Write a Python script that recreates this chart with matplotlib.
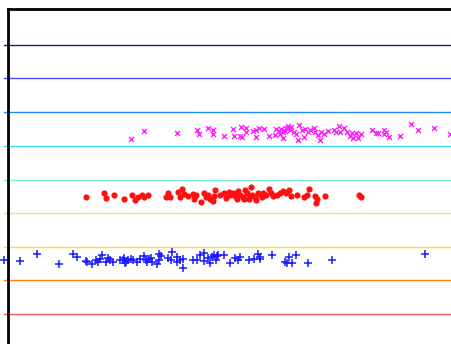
import matplotlib
matplotlib.use("Agg")
import matplotlib.pyplot as plt

# horizontal separator lines (height, colour) from bottom to top
line_y = [30, 64, 97, 131, 164, 198, 232, 266, 299]
line_colors = ["#f05a5a", "#ff8010", "#ffe030", "#d4f078", "#78f0cc",
               "#40d8f8", "#1a8cff", "#4848f8", "#1a1a80"]

# magenta 'x' group
mag_x = [130.7, 144, 177.3, 196.7, 199.3, 208, 213.3, 212.7, 224, 233.3, 234, 241.3,
         246, 246, 240, 242, 252.7, 256, 258.7, 264, 256, 268.7, 276, 275.3, 279.3,
         281.3, 283.3, 280, 286, 288, 282.7, 284.7, 287.7, 291, 299, 289.7, 293.7,
         295.7, 298.3, 301.7, 305, 304.3, 307.7, 309.7, 313.7, 315, 317.7, 319.7, 321,
         324.3, 328.3, 333.7, 335.7, 339, 340.3, 343.7, 347, 350.3, 351.7, 355.7, 353,
         358.3, 361, 371.7, 375.7, 377.7, 384.3, 386.3, 383.7, 389, 399.7, 411, 417.7,
         433.7, 449.7]
mag_y = [205, 213, 211, 214.3, 210, 215.7, 213.7, 210, 208.3, 215, 208.3, 217.3,
         215.7, 211.7, 208.3, 207, 213, 214, 215.7, 215, 207, 208.3, 215, 209, 213,
         215, 212.3, 210.3, 215.7, 218, 205.7, 213, 216.3, 217, 219, 213.7, 212.3,
         209.7, 203.7, 213.7, 215, 207, 212.3, 213.7, 215.7, 212.3, 209, 203.7, 212.3,
         209.7, 213, 213.7, 212.3, 217.7, 211.7, 215.7, 211.7, 207.7, 211, 211, 205.7,
         206.3, 209.7, 213.7, 211, 211, 213.7, 212.3, 210.3, 207, 208.3, 220.3, 213.7,
         215.7, 210.3]

# red dot group
red_x = [85.7, 104.3, 105.7, 113.7, 124.3, 132.3, 135, 138.3, 142.3, 144.3, 148.3,
         165.7, 167.7, 169.7, 178.3, 181.7, 180.3, 183.7, 188.3, 193, 194.3, 195.7,
         201, 203.7, 205.7, 208.3, 210.3, 213, 215, 214.3, 220.3, 223.7, 227, 230.3,
         233, 234.7, 237.3, 240, 243.3, 246.7, 248.7, 251.3, 252, 254.7, 258, 260.7,
         263.3, 266, 268.7, 270.7, 273.3, 276.7, 280, 283.3, 286, 289.3, 291.3, 296.7,
         304, 308.7, 307.3, 315.3, 317.3, 316, 325.3, 359.3, 361.3,
         226, 229, 238, 244, 250, 256, 262, 245]
red_y = [146.7, 151.3, 146, 148.7, 145.3, 149.3, 144, 146.7, 148.7, 147.3, 149.3,
         147.3, 150.7, 146.7, 152, 154.7, 146.7, 150, 148, 150, 145.3, 148.7,
         142, 150.7, 146.7, 148.7, 144.7, 143.3, 154, 148, 149.3, 150.7, 148.7, 149.3,
         150.7, 148, 144.7, 149.3, 146.7, 150.7, 145.3, 157.3, 149.3, 146.7, 150.7, 148.7,
         151.3, 149.3, 154.7, 151.3, 148, 149.3, 151.3, 152.7, 150.7, 154, 148, 149.3,
         146.7, 154.7, 149.3, 148, 145.3, 140.7, 148, 148.7, 146.7,
         146, 152, 153, 145, 148, 144, 147, 154]

# blue '+' group
blue_x = [4, 20, 36.7, 59.3, 72.7, 76.7, 86, 87.3, 92, 96, 98, 102, 100, 106, 108, 110,
          113.3, 120, 122.7, 124, 126, 125.3, 128, 130.7, 133.3, 136.7, 140, 144, 146,
          148.7, 147.3, 150.7, 152, 156.7, 158.7, 161.3, 159.3, 168, 172, 171.3, 176.7,
          180, 177.3, 182.7, 183.3, 193.3, 197.3, 200.3, 203.7, 204.3, 208.3, 210.3,
          212.3, 214.3, 215.7, 217, 218.3, 223.7, 229.7, 235, 237.7, 240.3, 249, 253.7,
          257.7, 259.7, 260.3, 272.3, 285, 289, 287, 292.3, 296.3, 308.3, 331.7, 425]
blue_y = [83.7, 83, 89.7, 80.3, 90.3, 87, 83, 82.3, 80.3, 84.3, 81.7, 89, 85, 82.3, 85.7,
          83.7, 82.3, 83.7, 84.3, 85.7, 82.3, 81, 83.7, 85, 83.7, 82.3, 85, 88.3, 83.7,
          85, 81.7, 86.3, 82.3, 80.3, 90.3, 87.7, 84.3, 85.7, 92.3, 83.7, 87,
          84.3, 81.7, 85, 76.3, 83.7, 83.7, 89.3, 90.7, 83.3, 86, 80.7,
          87.3, 88.7, 84, 88, 89.3, 88.7, 80.7, 86, 84, 86.7, 84, 85.3,
          90, 86.7, 85.3, 88.7, 82, 86.7, 80.7, 80.7, 88.7, 81.3, 84, 90]

fig = plt.figure(figsize=(4.52, 3.44), dpi=100)
ax = fig.add_axes([8 / 452, 0, 1, 335 / 344])
ax.set_xlim(8, 460)
ax.set_ylim(0, 335)

for y, c in zip(line_y, line_colors):
    ax.plot([4, 460], [y, y], color=c, lw=1, clip_on=False, zorder=1)

ax.scatter(mag_x, mag_y, marker="x", s=13, color="#ff22ff", linewidths=1, zorder=3)
ax.scatter(red_x, red_y, marker="o", s=20, color="#ff1010", linewidths=0, zorder=3)
ax.scatter(blue_x, blue_y, marker="+", s=28, color="#1a1aff", linewidths=1.1,
           zorder=3, clip_on=False)

for side in ["right", "bottom"]:
    ax.spines[side].set_visible(False)
for side in ["top", "left"]:
    ax.spines[side].set_linewidth(2)
    ax.spines[side].set_zorder(5)
ax.set_xticks([])
ax.set_yticks([])

fig.savefig("out.png", dpi=100)
